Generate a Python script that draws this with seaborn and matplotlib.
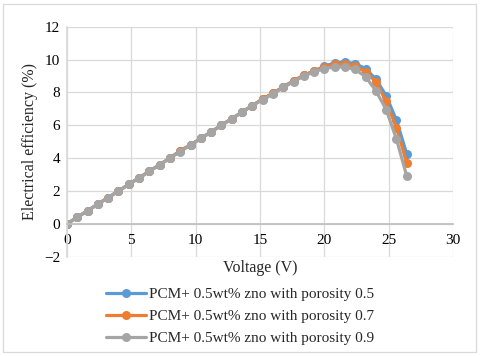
import numpy as np
import pandas as pd
import matplotlib
matplotlib.use('Agg')
import matplotlib.pyplot as plt
import seaborn as sns
from matplotlib.patches import Rectangle

sns.set_theme(style='white')
plt.rcParams['font.family'] = ['Liberation Serif', 'DejaVu Serif']

# Voltage (V)
voltage = [0.0, 0.8, 1.6, 2.4, 3.2, 4.0, 4.8, 5.6, 6.4, 7.2, 8.0, 8.8, 9.6, 10.4, 11.2,
           12.0, 12.8, 13.6, 14.4, 15.2, 16.0, 16.8, 17.6, 18.4, 19.2, 20.0, 20.8,
           21.6, 22.4, 23.2, 24.0, 24.8, 25.6, 26.4]

# Electrical efficiency (%)
eff_05 = [0.0, 0.4, 0.8, 1.2, 1.6, 2.0, 2.4, 2.8, 3.2, 3.6, 4.0, 4.45, 4.8, 5.2, 5.6,
          6.0, 6.4, 6.8, 7.2, 7.6, 7.95, 8.35, 8.7, 9.05, 9.3, 9.6, 9.8,
          9.85, 9.75, 9.45, 8.8, 7.8, 6.3, 4.25]
eff_07 = [0.0, 0.4, 0.8, 1.2, 1.6, 2.0, 2.4, 2.8, 3.2, 3.6, 4.0, 4.45, 4.8, 5.2, 5.6,
          6.0, 6.4, 6.8, 7.2, 7.6, 7.95, 8.3, 8.7, 9.05, 9.3, 9.55, 9.7,
          9.7, 9.6, 9.25, 8.65, 7.45, 5.85, 3.7]
eff_09 = [0.0, 0.4, 0.8, 1.2, 1.6, 2.0, 2.4, 2.8, 3.2, 3.6, 4.0, 4.4, 4.8, 5.2, 5.6,
          6.0, 6.4, 6.8, 7.2, 7.55, 7.9, 8.3, 8.65, 9.0, 9.25, 9.45, 9.55,
          9.55, 9.4, 8.95, 8.1, 6.95, 5.15, 2.9]

labels = ['PCM+ 0.5wt% zno with porosity 0.5',
          'PCM+ 0.5wt% zno with porosity 0.7',
          'PCM+ 0.5wt% zno with porosity 0.9']
colors = ['#5B9BD5', '#ED7D31', '#A5A5A5']

fig = plt.figure(figsize=(4.8, 3.56), dpi=100)
ax = fig.add_axes([0.1396, 0.279, 0.8044, 0.646])

for y, lab, c in zip([eff_05, eff_07, eff_09], labels, colors):
    sns.lineplot(x=voltage, y=y, ax=ax, color=c, label=lab, marker='o',
                 markersize=6.5, markeredgewidth=0, linewidth=2.3)

ax.set_xlim(0, 30)
ax.set_ylim(-2, 12)
ax.set_xticks(range(0, 31, 5))
ax.set_yticks(range(-2, 13, 2))
ax.grid(True, color='#D9D9D9', linewidth=0.9)
ax.set_axisbelow(True)
for s in ['top', 'right']:
    ax.spines[s].set_visible(False)
ax.spines['left'].set_color('#D9D9D9')
ax.spines['bottom'].set_position(('data', 0))
ax.spines['bottom'].set_color('#BFBFBF')
ax.tick_params(axis='both', length=0, labelsize=11, colors='#000000', pad=5)
ax.tick_params(axis='x', pad=7)

ax.set_xlabel('Voltage (V)', fontsize=11.5)
ax.xaxis.set_label_coords(0.5, -0.05)
ax.xaxis.label.set_va('center')
ax.set_ylabel('Electrical efficiency (%)', fontsize=11.5, labelpad=4)

ax.get_legend().remove()
handles, labs = ax.get_legend_handles_labels()
fig.legend(handles, labs, loc='center', bbox_to_anchor=(0.5, 0.112), frameon=False,
           fontsize=11, handlelength=2.6, handletextpad=0.2, labelspacing=0.55)

fig.patches.append(Rectangle((0.006, 0.01), 0.986, 0.978, transform=fig.transFigure,
                             fill=False, edgecolor='#D9D9D9', linewidth=0.9))

fig.savefig('out.png', dpi=100)
